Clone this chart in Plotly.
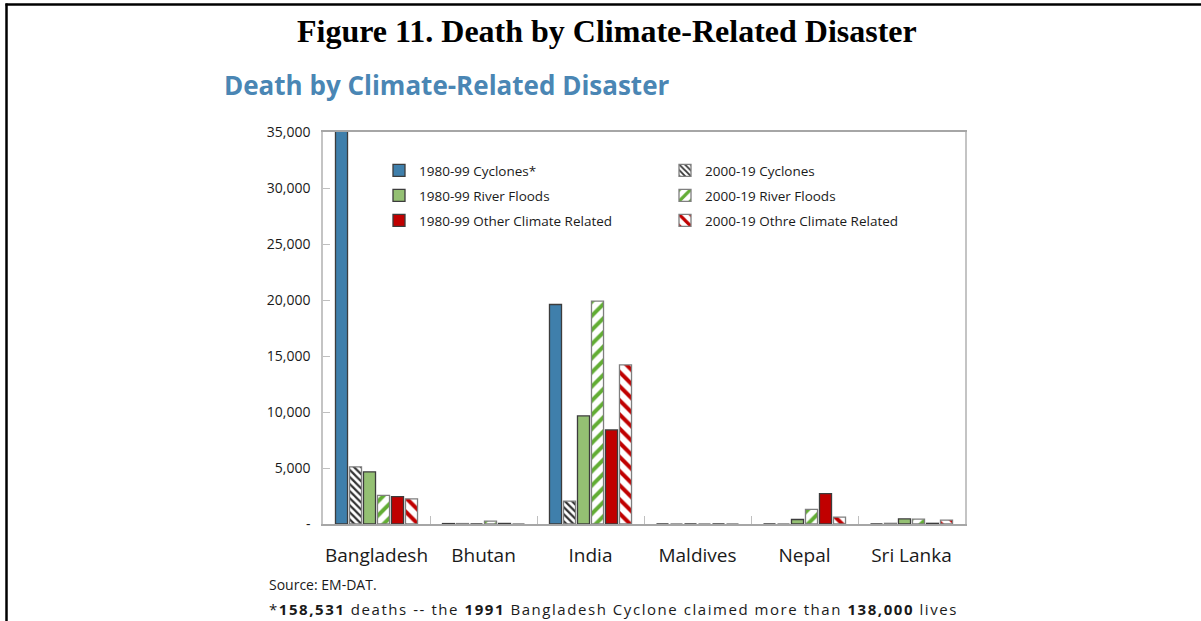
import plotly.graph_objects as go

countries = ["Bangladesh", "Bhutan", "India", "Maldives", "Nepal", "Sri Lanka"]
cyclones_1980_99 = [158531, 40, 19600, 0, 0, 0]
cyclones_2000_19 = [5100, 40, 2050, 0, 0, 60]
floods_1980_99 = [4650, 0, 9650, 0, 400, 450]
floods_2000_19 = [2550, 250, 19900, 0, 1300, 430]
other_1980_99 = [2450, 50, 8400, 0, 2720, 60]
other_2000_19 = [2250, 0, 14200, 0, 620, 350]

y_tickvals = [0, 5000, 10000, 15000, 20000, 25000, 30000, 35000]
y_ticktext = ["-", "5,000", "10,000", "15,000", "20,000", "25,000", "30,000", "35,000"]

BLUE = "#3f7fab"
GREEN = "#94c073"
GREEN_STRIPE = "#62ad34"
RED = "#c00000"
SOLID_LINE = dict(color="#3c3c3c", width=1.3)
HATCH_LINE = dict(color="#7f7f7f", width=1.3)

FONT = "Open Sans"

fig = go.Figure()
fig.add_trace(go.Bar(name="1980-99 Cyclones*", x=countries, y=cyclones_1980_99, legend="legend",
                     marker=dict(color=BLUE, line=SOLID_LINE)))
fig.add_trace(go.Bar(name="2000-19 Cyclones", x=countries, y=cyclones_2000_19, legend="legend",
                     marker=dict(color="white", line=HATCH_LINE,
                                 pattern=dict(shape="\\", fgcolor="#333333", bgcolor="white",
                                              size=5, solidity=0.45, fillmode="replace"))))
fig.add_trace(go.Bar(name="1980-99 River Floods", x=countries, y=floods_1980_99, legend="legend2",
                     marker=dict(color=GREEN, line=SOLID_LINE)))
fig.add_trace(go.Bar(name="2000-19 River Floods", x=countries, y=floods_2000_19, legend="legend2",
                     marker=dict(color="white", line=HATCH_LINE,
                                 pattern=dict(shape="/", fgcolor=GREEN_STRIPE, bgcolor="white",
                                              size=10, solidity=0.4, fillmode="replace"))))
fig.add_trace(go.Bar(name="1980-99 Other Climate Related", x=countries, y=other_1980_99, legend="legend3",
                     marker=dict(color=RED, line=SOLID_LINE)))
fig.add_trace(go.Bar(name="2000-19 Othre Climate Related", x=countries, y=other_2000_19, legend="legend3",
                     marker=dict(color="white", line=HATCH_LINE,
                                 pattern=dict(shape="\\", fgcolor=RED, bgcolor="white",
                                              size=10, solidity=0.4, fillmode="replace"))))

W, H = 1201, 621
L, R, T, B = 323, 236, 132, 97
PW = W - L - R
PH = H - T - B


def px(xp):
    return (xp - L) / PW


def py(yp):
    return (H - B - yp) / PH


def legend_row(top):
    return dict(orientation="h", x=px(379), y=py(top), xanchor="left", yanchor="top",
                entrywidth=241, bgcolor="rgba(0,0,0,0)",
                font=dict(family=FONT, size=13.5, color="#1a1a1a"),
                traceorder="normal")


fig.update_layout(
    width=W, height=H,
    margin=dict(l=L, r=R, t=T, b=B, pad=0, autoexpand=False),
    paper_bgcolor="white", plot_bgcolor="white",
    barmode="group", bargap=0.215, bargroupgap=0.14,
    font=dict(family=FONT, color="#1a1a1a"),
    showlegend=True,
    legend=legend_row(155),
    legend2=legend_row(180),
    legend3=legend_row(205),
    xaxis=dict(type="category", showline=True, linecolor="#a6a6a6", linewidth=1.5, mirror=True,
               ticks="inside", tickson="boundaries", ticklen=8, tickcolor="#bfbfbf", tickwidth=1.2,
               showgrid=False, tickfont=dict(family=FONT, size=19, color="#1a1a1a"),
               tickangle=0, automargin=False, ticklabelstandoff=13),
    yaxis=dict(range=[0, 35000], tickvals=y_tickvals, ticktext=y_ticktext,
               showline=True, linecolor="#c4c4c4", linewidth=1.5, mirror=True,
               ticks="inside", ticklen=7, tickcolor="#bfbfbf", tickwidth=1.2,
               showgrid=False, zeroline=False, automargin=False,
               tickfont=dict(family=FONT, size=14, color="#1a1a1a"),
               ticklabelstandoff=8),
)

fig.add_annotation(text="<b>Figure 11. Death by Climate-Related Disaster</b>",
                   xref="paper", yref="paper", x=px(607), y=py(31), xanchor="center", yanchor="middle",
                   showarrow=False, font=dict(family="Liberation Serif", size=32, color="black"))
fig.add_annotation(text="<b>Death by Climate-Related Disaster</b>",
                   xref="paper", yref="paper", x=px(222), y=py(85), xanchor="left", yanchor="middle",
                   showarrow=False, font=dict(family=FONT, size=26, color="#4a86b4"))
fig.add_annotation(text="Source: EM-DAT.",
                   xref="paper", yref="paper", x=px(267), y=py(584), xanchor="left", yanchor="middle",
                   showarrow=False, font=dict(family=FONT, size=14, color="#1a1a1a"))
fig.add_annotation(text='<span style="letter-spacing:1.55px">*<b>158,531</b> deaths -- the <b>1991</b> '
                        'Bangladesh Cyclone claimed more than <b>138,000</b> lives</span>',
                   xref="paper", yref="paper", x=px(267), y=py(609), xanchor="left", yanchor="middle",
                   showarrow=False, font=dict(family=FONT, size=15, color="#1a1a1a"))

# page frame lines
fig.add_shape(type="line", xref="paper", yref="paper", x0=px(5.5), x1=px(1201), y0=py(4.5), y1=py(4.5),
              line=dict(color="black", width=2.5))
fig.add_shape(type="line", xref="paper", yref="paper", x0=px(6.5), x1=px(6.5), y0=py(3.5), y1=py(621),
              line=dict(color="black", width=2.5))

fig.write_html("out.html", config={"displayModeBar": False},
               post_script="document.body.style.margin='0';document.body.style.overflow='hidden';")
